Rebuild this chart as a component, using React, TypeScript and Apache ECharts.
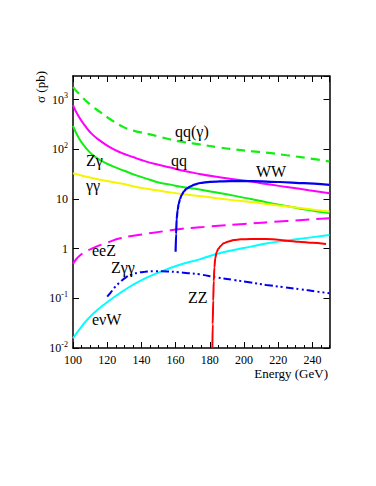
import React, { useEffect, useRef } from 'react';
import * as echarts from 'echarts';

const FONT = '"Liberation Serif", "DejaVu Serif", serif';

// Energy (GeV) vs cross section (pb)
const qqGamma: [number, number][] = [
  [100, 1790], [104, 1260], [110, 800], [116, 560], [122, 400], [128, 300], [133, 251], [139, 222],
  [145, 200], [151, 178], [157, 158], [165, 140], [174, 126], [185, 110], [195, 99], [205, 91],
  [213, 86], [225, 76], [238, 66], [250, 57],
];
const qq: [number, number][] = [
  [100, 780], [103, 480], [107, 300], [111, 205], [116, 148], [122, 108], [128, 86], [135, 70],
  [142, 58], [150, 49], [157, 43], [163, 38], [174, 32], [184, 28], [194, 25], [204, 22.5],
  [213, 20], [225, 17.5], [238, 15], [250, 13],
];
const zGamma: [number, number][] = [
  [100, 297], [103.3, 172], [107.2, 110], [111, 80], [117, 58], [123, 46], [130, 37], [137, 30],
  [145, 24.5], [150, 21.5], [157, 19.5], [163, 17.6], [174, 15.5], [184, 13.5], [194, 11.7],
  [204, 10], [213, 8.6], [223, 7.4], [233, 6.4], [242, 5.7], [250, 5.2],
];
const gammaGamma: [number, number][] = [
  [100, 33], [110, 27], [120, 23], [130, 20], [137, 17.5], [150, 14.8], [157, 13.6], [165, 12.5],
  [174, 11.5], [184, 10.4], [194, 9.5], [204, 8.7], [213, 7.9], [223, 7.2], [233, 6.6],
  [242, 6.0], [250, 5.6],
];
const ww: [number, number][] = [
  [160, 0.87], [160.3, 2], [160.6, 3.9], [161.2, 6], [161.8, 8], [162.6, 10], [163.5, 12],
  [165, 14.5], [166.5, 16.3], [168.5, 17.8], [171, 19.5], [174.3, 21], [180, 22.2], [192, 23],
  [205, 23], [221, 22], [235, 20.8], [250, 19.3],
];
const eeZ: [number, number][] = [
  [100, 0.5], [102, 0.62], [104, 0.73], [107, 0.86], [110, 0.97], [115, 1.15], [120, 1.32],
  [127, 1.6], [138, 1.88], [154, 2.27], [163, 2.5], [180, 2.8], [200, 3.15], [225, 3.6], [250, 4.1],
];
const zGammaGamma: [number, number][] = [
  [120, 0.108], [122, 0.13], [124, 0.16], [126, 0.19], [128, 0.22], [131, 0.265], [134, 0.3],
  [138, 0.328], [142, 0.342], [148, 0.35], [155, 0.348], [162, 0.335], [168, 0.32], [174, 0.304],
  [184, 0.265], [194, 0.234], [204, 0.208], [213, 0.186], [223, 0.168], [233, 0.152],
  [242, 0.138], [250, 0.126],
];
const enuW: [number, number][] = [
  [100, 0.0157], [105, 0.027], [111, 0.046], [119, 0.079], [128.7, 0.136], [138.4, 0.217],
  [150, 0.33], [162, 0.47], [174, 0.61], [184, 0.78], [194, 0.94], [204, 1.1], [213, 1.27],
  [223, 1.43], [237, 1.65], [250, 1.88],
];
const zz: [number, number][] = [
  [181.5, 0.01], [181.7, 0.03], [182, 0.09], [182.3, 0.22], [182.7, 0.42], [183.2, 0.65],
  [184, 0.85], [185, 1.0], [186.5, 1.15], [188, 1.28], [191, 1.4], [194, 1.49], [198, 1.54],
  [204, 1.57], [213, 1.57], [220, 1.52], [225, 1.45], [232, 1.38], [240, 1.31], [248, 1.24],
];

// curve labels: text, pixel x (left), pixel y (middle)
const curveLabels: [string, number, number][] = [
  ['qq(γ)', 175, 131],
  ['qq', 171, 160],
  ['WW', 256, 171],
  ['Zγ', 86, 160],
  ['γγ', 86, 185],
  ['eeZ', 92, 250],
  ['Zγγ', 111, 267],
  ['eνW', 92, 319],
  ['ZZ', 188, 297],
];

const X_MIN = 100;
const X_MAX = 250;
const Y_MIN = 0.01;
const Y_MAX = 3000;

function yLabel(v: number): string {
  const e = Math.round(Math.log10(v));
  if (Math.abs(Math.log10(v) - e) > 1e-6) return '';
  if (e === 0) return '{b|1}';
  if (e === 1) return '{b|10}';
  return '{b|10}{s|' + e + '}';
}

export default function App() {
  const ref = useRef<HTMLDivElement>(null);
  useEffect(() => {
    if (!ref.current) return;
    const chart = echarts.init(ref.current, undefined, { renderer: 'svg' });
    const axisLine = { show: true, lineStyle: { color: '#000', width: 1.5 } };
    const majorX = (pos: 'bottom' | 'top', labels: boolean) => ({
      type: 'value', min: X_MIN, max: X_MAX, interval: 20, position: pos,
      axisLine, splitLine: { show: false },
      axisTick: { show: true, inside: true, length: 6, lineStyle: { color: '#000', width: 1 } },
      axisLabel: {
        show: labels, showMaxLabel: false, color: '#000', fontSize: 12, fontFamily: FONT, margin: 6,
      },
    });
    const minorX = (pos: 'bottom' | 'top') => ({
      type: 'value', min: X_MIN, max: X_MAX, interval: 5, position: pos,
      axisLine: { show: false }, splitLine: { show: false },
      axisTick: { show: true, inside: true, length: 3, lineStyle: { color: '#000', width: 1 } },
      axisLabel: { show: false },
    });
    const logY = (pos: 'left' | 'right', labels: boolean) => ({
      type: 'log', logBase: 10, min: Y_MIN, max: Y_MAX, position: pos,
      axisLine, splitLine: { show: false }, minorTick: { show: false },
      axisTick: { show: true, inside: true, length: 6, lineStyle: { color: '#000', width: 1 } },
      axisLabel: {
        show: labels, showMaxLabel: false, color: '#000', margin: 5,
        formatter: (v: number) => yLabel(v),
        rich: {
          b: { fontSize: 12, fontFamily: FONT, color: '#000' },
          s: { fontSize: 8, fontFamily: FONT, color: '#000', padding: [0, 0, 8, 0] },
        },
      },
    });

    const mk = (name: string, data: [number, number][], color: string, type: any, width = 2) => ({
      name, type: 'line', data, showSymbol: false, symbol: 'none', smooth: 0.5,
      clip: true, xAxisIndex: 0, yAxisIndex: 0,
      lineStyle: { color, width, type },
      z: 3,
    });

    chart.setOption({
      animation: false,
      backgroundColor: '#fff',
      grid: { left: 73, top: 76, width: 256.5, height: 272, containLabel: false },
      xAxis: [majorX('bottom', true), minorX('bottom'), majorX('top', false), minorX('top')],
      yAxis: [logY('left', true), logY('right', false)],
      series: [
        mk('qq(γ)', qqGamma, '#11ee11', [9, 6], 2.2),
        mk('qq', qq, '#ff00ff', 'solid'),
        mk('Zγ', zGamma, '#11ee11', 'solid'),
        mk('γγ', gammaGamma, '#f5f500', 'solid'),
        mk('eeZ', eeZ, '#ff00ff', [14, 7]),
        mk('eνW', enuW, '#00ffff', 'solid'),
        mk('Zγγ', zGammaGamma, '#0000ee', [8, 3, 2, 3, 2, 3]),
        { ...mk('WW', ww, '#0000ee', 'solid', 2.2), smooth: 0.3, smoothMonotone: 'x' },
        { ...mk('ZZ', zz, '#ff0000', 'solid'), smooth: 0.3, smoothMonotone: 'x' },
      ],
      graphic: [
        ...curveLabels.map(([t, x, y]) => ({
          type: 'text', x, y, z: 10,
          style: { text: t, fontSize: 16, fontFamily: FONT, fill: '#000', align: 'left', verticalAlign: 'middle' },
        })),
        {
          type: 'text', x: 40, y: 87, rotation: Math.PI / 2,
          style: { text: 'σ (pb)', fontSize: 13, fontFamily: FONT, fill: '#000', align: 'center', verticalAlign: 'middle' },
        },
        {
          type: 'text', x: 328, y: 373,
          style: { text: 'Energy (GeV)', fontSize: 13, fontFamily: FONT, fill: '#000', align: 'right', verticalAlign: 'middle' },
        },
      ],
    });
    return () => chart.dispose();
  }, []);
  return <div ref={ref} style={{ position: 'fixed', left: 0, top: 0, width: 376, height: 486, background: '#fff' }} />;
}
